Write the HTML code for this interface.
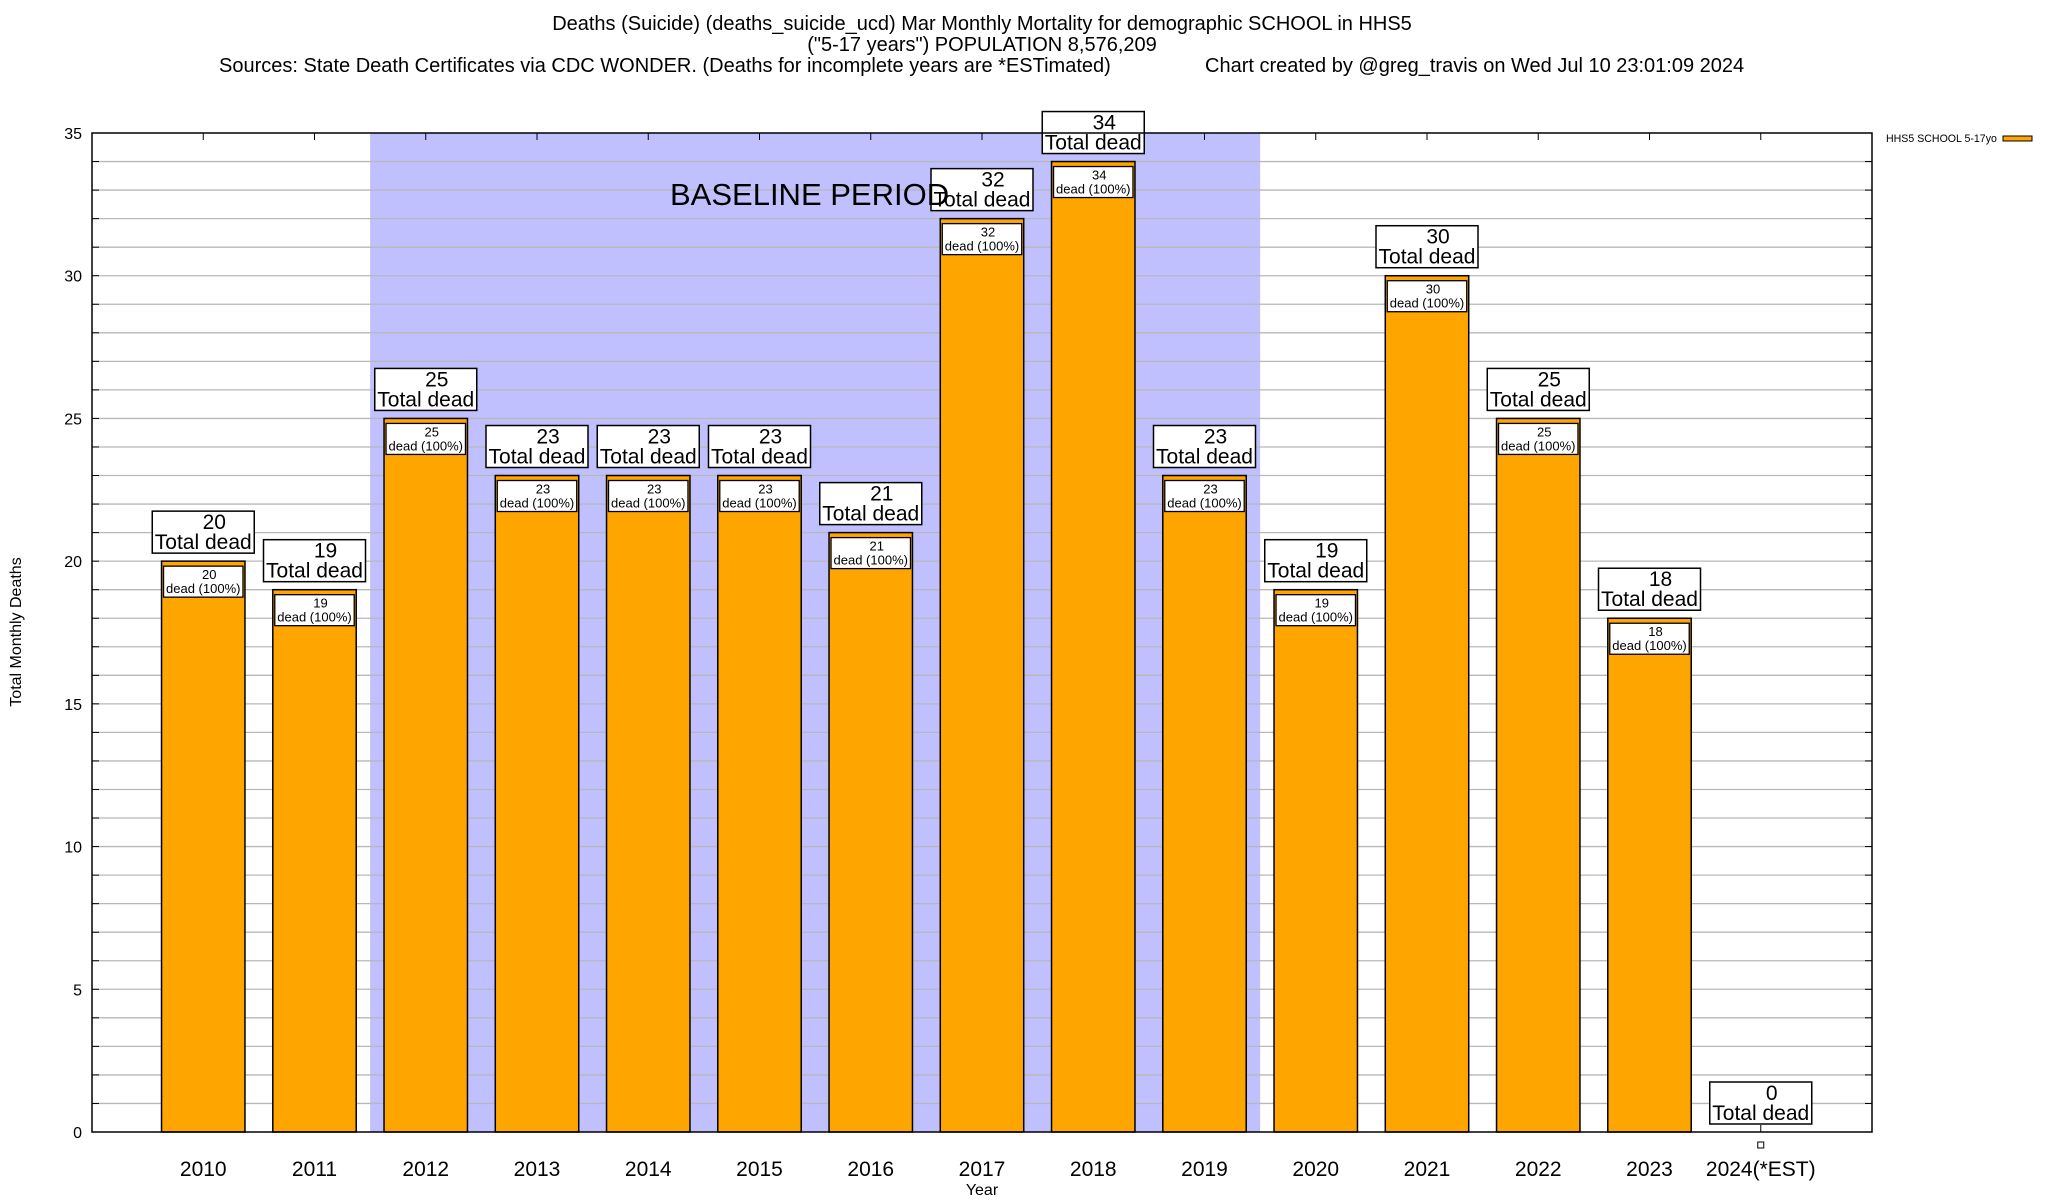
<!DOCTYPE html>
<html><head><meta charset="utf-8"><style>
body{margin:0;background:#fff}
svg{display:block;font-family:"Liberation Sans",sans-serif}
</style></head><body>
<svg id="c" width="2048" height="1200" viewBox="0 0 2048 1200"></svg>
<script>
const years=["2010","2011","2012","2013","2014","2015","2016","2017","2018","2019","2020","2021","2022","2023","2024(*EST)"];
const deaths=[20,19,25,23,23,23,21,32,34,23,19,30,25,18,0];
const yTicks=[0,5,10,15,20,25,30,35];
const baselineStart=2, baselineEnd=9;
const NS="http://www.w3.org/2000/svg";
const svg=document.getElementById('c');
const L=92,R=1872,T=133,B=1132,YMAX=35,SLOT=(R-L)/16;
const y=v=>B-(v/YMAX)*(B-T);
const x=i=>L+(i+1)*SLOT;
function mk(tag,attrs,parent,text){const e=document.createElementNS(NS,tag);for(const k in attrs)e.setAttribute(k,attrs[k]);if(text!==undefined)e.textContent=text;(parent||svg).appendChild(e);return e;}
let t;
t=mk('text',{x:982,y:30,'text-anchor':'middle','font-size':20},svg,'Deaths (Suicide) (deaths_suicide_ucd) Mar Monthly Mortality for demographic SCHOOL in HHS5');

t=mk('text',{x:982,y:51,'text-anchor':'middle','font-size':20},svg,'("5-17 years") POPULATION 8,576,209');

t=mk('text',{x:219,y:72,'font-size':20},svg,'Sources: State Death Certificates via CDC WONDER. (Deaths for incomplete years are *ESTimated)');

t=mk('text',{x:1205,y:72,'font-size':20},svg,'Chart created by @greg_travis on Wed Jul 10 23:01:09 2024');

const band=mk('rect',{x:x(baselineStart)-SLOT/2,y:T,width:(baselineEnd-baselineStart+1)*SLOT,height:B-T,fill:'#c0c0ff'});

for(let v=1;v<YMAX;v++){const g=mk('line',{x1:L,x2:R,y1:y(v),y2:y(v),stroke:'#b8b8b8','stroke-width':1.3});

mk('line',{x1:L,x2:L+7,y1:y(v),y2:y(v),stroke:'#000','stroke-width':1});mk('line',{x1:R-7,x2:R,y1:y(v),y2:y(v),stroke:'#000','stroke-width':1});}
yTicks.forEach(v=>{const e=mk('text',{x:82,y:y(v)+6,'text-anchor':'end','font-size':16},svg,String(v));
});
const BW=SLOT*0.75;
years.forEach((yr,i)=>{const cx=x(i),v=deaths[i];
 mk('line',{x1:cx,x2:cx,y1:T,y2:T+7,stroke:'#000'});mk('line',{x1:cx,x2:cx,y1:B-7,y2:B,stroke:'#000'});
 if(v>0){const b=mk('rect',{x:cx-BW/2,y:y(v),width:BW,height:B-y(v),fill:'#ffa500',stroke:'#000','stroke-width':1.5});
 
 const ib=mk('rect',{x:cx-BW/2+2,y:y(v)+5,width:BW-4,height:31,fill:'#fff',stroke:'#000','stroke-width':1.3});
 
 mk('text',{x:cx+6,y:y(v)+18,'text-anchor':'middle','font-size':13},svg,String(v));
 mk('text',{x:cx,y:y(v)+32,'text-anchor':'middle','font-size':13},svg,'dead (100%)');
 } else {const s=mk('rect',{x:cx-3,y:B+10,width:6,height:6,fill:'#fff',stroke:'#000','stroke-width':1});
 }
 const top=v>0?y(v)-8:B-8;
 const bx=mk('rect',{x:cx-51,y:top-42,width:102,height:42,fill:'#fff',stroke:'#000','stroke-width':1.5});
 
 mk('text',{x:cx+11,y:top-24,'text-anchor':'middle','font-size':21},svg,String(v));
 mk('text',{x:cx,y:top-4,'text-anchor':'middle','font-size':21},svg,'Total dead');
 const xl=mk('text',{x:cx,y:1176,'text-anchor':'middle','font-size':21},svg,yr);
 
});
t=mk('text',{x:670,y:205,'font-size':31},svg,'BASELINE PERIOD');

const fr=mk('rect',{x:L,y:T,width:R-L,height:B-T,fill:'none',stroke:'#000','stroke-width':1.5});

t=mk('text',{x:0,y:0,'font-size':16,'text-anchor':'middle',transform:'translate(21,632) rotate(-90)'},svg,'Total Monthly Deaths');

t=mk('text',{x:982,y:1195,'text-anchor':'middle','font-size':16},svg,'Year');

t=mk('text',{x:1886,y:142,'font-size':10.6},svg,'HHS5 SCHOOL 5-17yo');

t=mk('rect',{x:2003,y:136,width:29,height:5,fill:'#ffa500',stroke:'#000','stroke-width':1});

</script>
</body></html>
